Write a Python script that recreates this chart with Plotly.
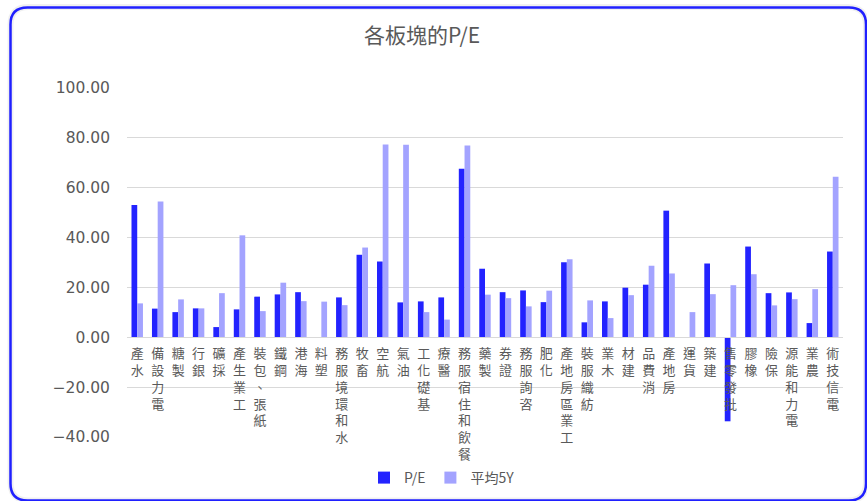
import plotly.graph_objects as go

categories = ["水產", "電力設備", "製糖", "銀行", "採礦", "工業生產", "紙張、包裝", "鋼鐵", "海港", "塑料",
              "水和環境服務", "畜牧", "航空", "油氣", "基礎化工", "醫療", "餐飲和住宿服務", "製藥", "證券",
              "咨詢服務", "化肥", "工業區房地產", "紡織服裝", "木業", "建材", "消費品", "房地產", "貨運",
              "建築", "批發零售", "橡膠", "保險", "電力和能源", "農業", "電信技術"]
pe = [53.1, 11.5, 10.1, 11.6, 4.1, 11.2, 16.3, 17.2, 18.1, None, 16.0, 33.1, 30.4, 14.0, 14.4, 16.0,
      67.6, 27.5, 18.1, 18.8, 14.1, 30.1, 6.0, 14.4, 19.9, 21.1, 50.8, None, 29.6, -33.7, 36.4, 17.7,
      18.0, 5.7, 34.4]
avg5y = [13.6, 54.5, 15.2, 11.6, 17.7, 40.9, 10.5, 21.9, 14.5, 14.3, 12.9, 36.0, 77.3, 77.2, 10.1, 7.1,
         76.9, 17.1, 15.7, 12.4, 18.7, 31.3, 14.8, 7.7, 16.9, 28.7, 25.6, 10.1, 17.3, 20.9, 25.3, 12.8,
         15.3, 19.3, 64.4]
series_names = ["P/E", "平均5Y"]
title_text = "各板塊的P/E"
y_ticks = [-40, -20, 0, 20, 40, 60, 80, 100]

W, H = 867, 501
ML, MR, MT, MB = 127, 24, 88, 64
YMIN, YMAX = -40, 100
PW, PH = W - ML - MR, H - MT - MB

def px2x(px):
    return (px - ML) / PW

def px2y(py):
    return (H - MB - py) / PH

# vertical labels, read bottom-to-top with upright characters
tick_text = ["<br>".join(list(c)[::-1]) for c in categories]

grey = "#595959"
cjk = "Noto Sans CJK TC, Noto Sans CJK SC, sans-serif"

fig = go.Figure()
fig.add_trace(go.Bar(x=categories, y=pe, name=series_names[0],
                     marker=dict(color="#2323FF", line=dict(width=0))))
fig.add_trace(go.Bar(x=categories, y=avg5y, name=series_names[1],
                     marker=dict(color="#A3A3FF", line=dict(width=0))))

def rounded_path(L, T, R, B, r):
    pts = [
        ("M", [(L + r, T)]), ("L", [(R - r, T)]), ("Q", [(R, T), (R, T + r)]),
        ("L", [(R, B - r)]), ("Q", [(R, B), (R - r, B)]), ("L", [(L + r, B)]),
        ("Q", [(L, B), (L, B - r)]), ("L", [(L, T + r)]), ("Q", [(L, T), (L + r, T)]),
    ]
    p = ""
    for cmd, ps in pts:
        p += cmd + " " + " ".join(f"{px2x(a):.5f},{px2y(b):.5f}" for a, b in ps) + " "
    return p + "Z"

shadow = rounded_path(10.5, 7.0, 866, 500.5, 18)
border = rounded_path(10.5, 7.5, 866, 500.5, 17)

fig.update_layout(
    width=W, height=H,
    margin=dict(l=ML, r=MR, t=MT, b=MB, autoexpand=False),
    paper_bgcolor="white", plot_bgcolor="white",
    barmode="group", bargap=0.44, bargroupgap=0,
    showlegend=True,
    legend=dict(orientation="h", x=px2x(442), xanchor="center", y=px2y(478), yanchor="middle",
                font=dict(family=cjk, size=14, color=grey), itemwidth=30, tracegroupgap=0),
    title=dict(text=title_text, x=422 / W, xanchor="center",
               y=1 - 36 / H, yanchor="middle",
               font=dict(family=cjk, size=21, color=grey)),
    xaxis=dict(type="category", tickmode="array", tickvals=categories, ticktext=tick_text,
               tickangle=0, anchor="free", position=(0 - YMIN) / (YMAX - YMIN),
               showline=True, linecolor="#D9D9D9", linewidth=1, showgrid=False, ticks="",
               tickfont=dict(family=cjk, size=13, color=grey), ticklabelstandoff=4),
    yaxis=dict(range=[YMIN, YMAX], tickvals=y_ticks, tickformat=".2f", showgrid=True,
               gridcolor="#D9D9D9", gridwidth=1, zeroline=False, showline=False, ticks="",
               tickfont=dict(family="DejaVu Sans", size=15.5, color=grey), ticklabelstandoff=16),
    shapes=[
        dict(type="path", xref="paper", yref="paper", path=shadow,
             line=dict(color="rgba(0,0,0,0.06)", width=6), layer="below"),
        dict(type="path", xref="paper", yref="paper", path=border,
             line=dict(color="#2020FF", width=2.5), layer="above"),
    ],
)

fig.write_html("out.html", config={"displayModeBar": False},
               post_script="document.body.style.margin='0';document.body.style.overflow='hidden';")
